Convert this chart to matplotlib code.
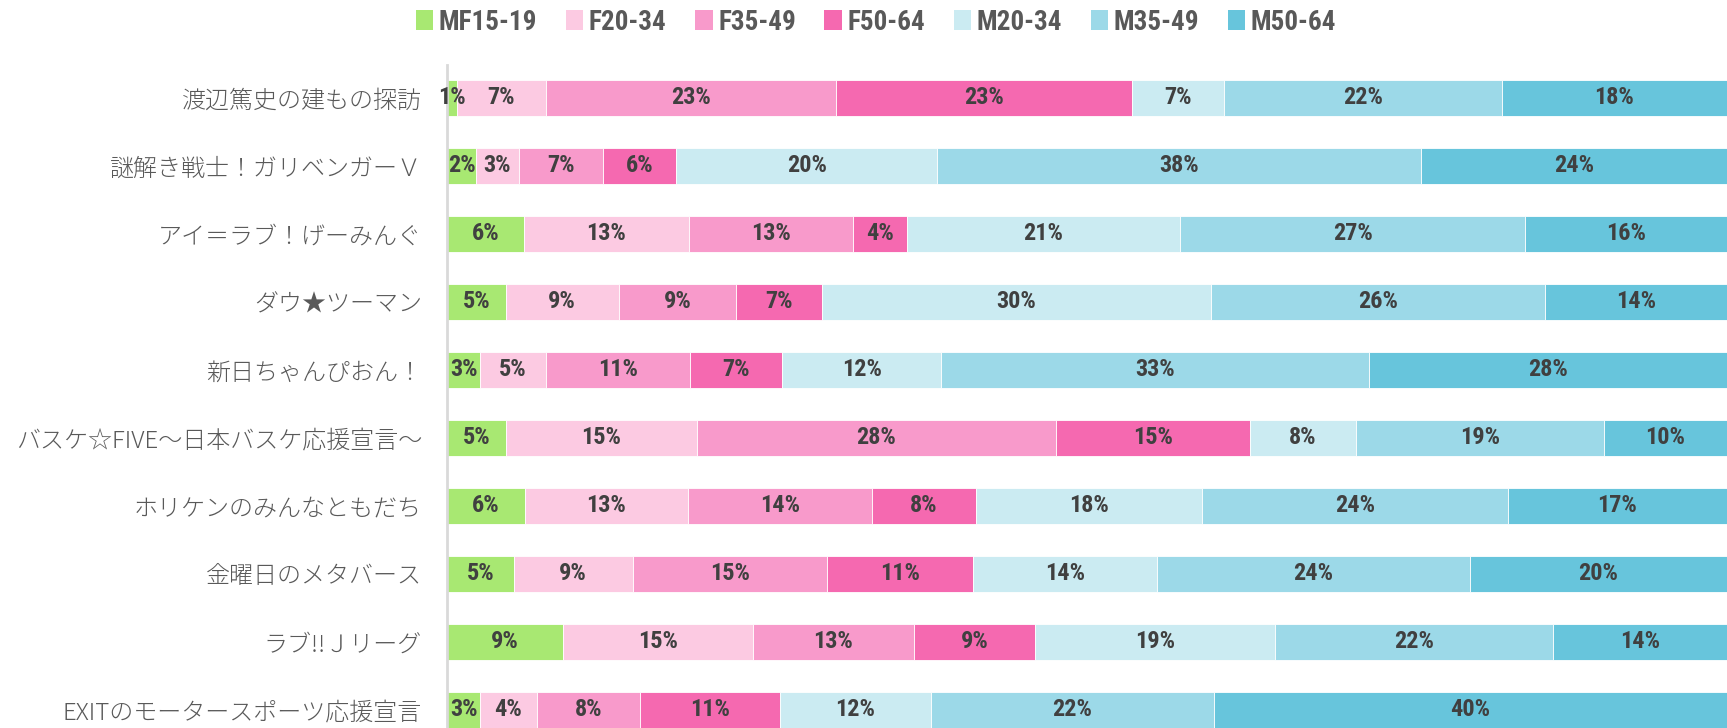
import matplotlib
matplotlib.use('Agg')
from matplotlib import pyplot as plt
from matplotlib import font_manager
from matplotlib.patches import Patch

# categories (top to bottom)
programs = ['渡辺篤史の建もの探訪', '謎解き戦士！ガリベンガーＶ', 'アイ＝ラブ！げーみんぐ',
            'ダウ★ツーマン', '新日ちゃんぴおん！', 'バスケ☆FIVE～日本バスケ応援宣言～',
            'ホリケンのみんなともだち', '金曜日のメタバース', 'ラブ!!Ｊリーグ',
            'EXITのモータースポーツ応援宣言']
groups = ['MF15-19', 'F20-34', 'F35-49', 'F50-64', 'M20-34', 'M35-49', 'M50-64']

# share (%) per group, one list per group, in program order
mf15_19 = [0.8, 2.3, 6.0, 4.6, 2.6, 4.6, 6.1, 5.2, 9.1, 2.6]
f20_34 = [6.9, 3.3, 12.9, 8.8, 5.1, 14.9, 12.7, 9.3, 14.8, 4.4]
f35_49 = [22.7, 6.6, 12.8, 9.2, 11.3, 28.1, 14.4, 15.2, 12.6, 8.1]
f50_64 = [23.1, 5.7, 4.2, 6.7, 7.2, 15.1, 8.1, 11.4, 9.4, 10.9]
m20_34 = [7.2, 20.4, 21.4, 30.4, 12.4, 8.3, 17.7, 14.4, 18.8, 11.8]
m35_49 = [21.7, 37.8, 26.9, 26.1, 33.4, 19.4, 23.9, 24.4, 21.7, 22.1]
m50_64 = [17.6, 23.9, 15.8, 14.2, 28.0, 9.6, 17.1, 20.1, 13.6, 40.1]
series = [mf15_19, f20_34, f35_49, f50_64, m20_34, m35_49, m50_64]

colors = ['#a8e872', '#fccae2', '#f89acb', '#f569b0', '#cbebf2', '#9cd9e8', '#67c5dc']


def pick_font(names):
	have = set(f.name for f in font_manager.fontManager.ttflist)
	for n in names:
		if n in have:
			return n
	return 'DejaVu Sans'

num_font = pick_font(['Roboto Condensed', 'Liberation Sans Narrow', 'Roboto', 'DejaVu Sans'])
jp_font = ['Noto Sans CJK JP', 'DejaVu Sans']

text_color = '#404040'
label_color = '#595959'

fig = plt.figure(figsize=(17.27, 7.28), dpi=100)
ax = fig.add_axes([447 / 1727, 0.0, 1 - 447 / 1727, (728 - 65) / 728])

ypos = list(range(len(programs)))
left = [0.0] * len(programs)
for vals, col in zip(series, colors):
	ax.barh(ypos, vals, left=left, height=0.53, color=col, edgecolor='white', linewidth=0.6)
	for y, v, l in zip(ypos, vals, left):
		ax.text(l + v / 2, y, '%.0f%%' % v, ha='center', va='center', fontsize=17.5,
				fontweight='bold', color=text_color, family=num_font)
	left = [a + b for a, b in zip(left, vals)]

ax.set_xlim(0, 100)
ax.set_ylim(9.265, -0.485)
ax.set_yticks(ypos)
ax.set_yticklabels(programs, family=jp_font, fontsize=17.3, color=label_color, fontweight='light')
ax.tick_params(axis='y', length=0, pad=18)
ax.set_xticks([])
for s in ['top', 'right', 'bottom']:
	ax.spines[s].set_visible(False)
ax.spines['left'].set_color('#d9d9d9')
ax.spines['left'].set_linewidth(2)

handles = [Patch(facecolor=c, edgecolor='none') for c in colors]
fig.legend(handles, groups, loc='center', bbox_to_anchor=(876 / 1727, 1 - 22 / 728), ncol=7,
		   frameon=False, handlelength=0.65, handleheight=0.8, handletextpad=0.2,
		   columnspacing=1.05, prop={'family': num_font, 'weight': 'bold', 'size': 19.5},
		   labelcolor=label_color)

fig.savefig('out.png', dpi=100)
